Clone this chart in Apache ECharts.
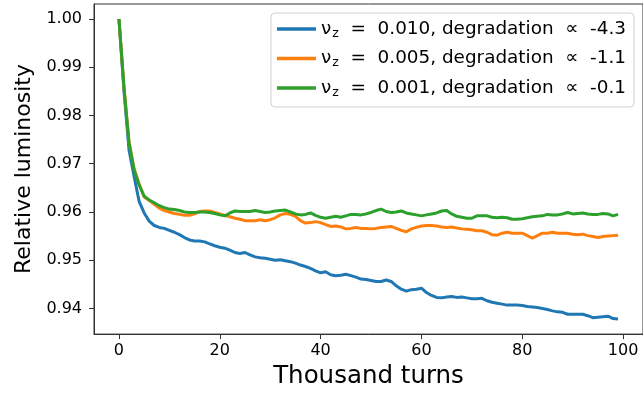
<!DOCTYPE html>
<html>
<head>
<meta charset="utf-8">
<script src="https://cdn.jsdelivr.net/npm/echarts@6/dist/echarts.min.js"></script>
<style>html,body{margin:0;padding:0;background:#fff;}#c{width:643px;height:394px;}</style>
</head>
<body>
<div id="c"></div>
<script>
// Thousand turns (sample positions)
const turns = [0,1,2,3,4,5,6,7,8,9,10,11,12,13,14,15,16,17,18,19,20,21,22,23,24,25,26,27,28,29,30,31,32,33,34,35,36,37,38,39,40,41,42,43,44,45,46,47,48,49,50,51,52,53,54,55,56,57,58,59,60,61,62,63,64,65,66,67,68,69,70,71,72,73,74,75,76,77,78,79,80,81,82,83,84,85,86,87,88,89,90,91,92,93,94,95,96,97,98,99];

const lumNu010 = [1.0000,0.9850,0.9728,0.9674,0.9622,0.9598,0.9581,0.9572,0.9568,0.9566,
0.9562,0.9558,0.9553,0.9547,0.9542,0.9540,0.9540,0.9538,0.9534,0.9530,
0.9527,0.9525,0.9521,0.9516,0.9514,0.9516,0.9511,0.9507,0.9505,0.9504,
0.9502,0.9500,0.9501,0.9499,0.9497,0.9494,0.9490,0.9487,0.9483,0.9478,
0.9474,0.9476,0.9470,0.9468,0.9469,0.9471,0.9468,0.9465,0.9461,0.9460,
0.9458,0.9456,0.9456,0.9459,0.9456,0.9447,0.9440,0.9436,0.9439,0.9440,
0.9442,0.9433,0.9427,0.9423,0.9422,0.9424,0.9425,0.9423,0.9424,0.9422,
0.9420,0.9420,0.9421,0.9416,0.9413,0.9411,0.9409,0.9407,0.9407,0.9407,
0.9406,0.9404,0.9403,0.9402,0.9400,0.9398,0.9395,0.9393,0.9392,0.9388,
0.9388,0.9388,0.9388,0.9385,0.9381,0.9382,0.9383,0.9384,0.9379,0.9378];

const lumNu005 = [1.0000,0.9858,0.9745,0.9690,0.9658,0.9631,0.9624,0.9616,0.9608,0.9603,
0.9600,0.9597,0.9595,0.9593,0.9593,0.9596,0.9601,0.9602,0.9602,0.9599,
0.9596,0.9593,0.9590,0.9587,0.9585,0.9582,0.9582,0.9582,0.9584,0.9582,
0.9584,0.9588,0.9594,0.9597,0.9595,0.9591,0.9582,0.9577,0.9578,0.9580,
0.9578,0.9574,0.9570,0.9571,0.9569,0.9565,0.9566,0.9568,0.9566,0.9566,
0.9565,0.9566,0.9568,0.9569,0.9570,0.9566,0.9562,0.9559,0.9565,0.9568,
0.9571,0.9572,0.9572,0.9571,0.9569,0.9568,0.9569,0.9567,0.9565,0.9564,
0.9563,0.9561,0.9561,0.9558,0.9553,0.9552,0.9556,0.9558,0.9556,0.9556,
0.9556,0.9551,0.9546,0.9551,0.9556,0.9556,0.9558,0.9556,0.9556,0.9556,
0.9554,0.9553,0.9554,0.9551,0.9549,0.9547,0.9549,0.9550,0.9551,0.9552];

const lumNu001 = [1.0000,0.9858,0.9743,0.9687,0.9656,0.9633,0.9625,0.9619,0.9613,0.9609,
0.9606,0.9605,0.9603,0.9600,0.9599,0.9599,0.9600,0.9600,0.9599,0.9597,
0.9594,0.9592,0.9598,0.9602,0.9601,0.9601,0.9601,0.9603,0.9601,0.9599,
0.9600,0.9602,0.9603,0.9604,0.9600,0.9596,0.9594,0.9595,0.9598,0.9593,
0.9589,0.9587,0.9589,0.9591,0.9589,0.9592,0.9595,0.9595,0.9594,0.9596,
0.9599,0.9603,0.9606,0.9601,0.9599,0.9600,0.9602,0.9598,0.9596,0.9594,
0.9592,0.9594,0.9596,0.9598,0.9602,0.9603,0.9596,0.9591,0.9589,0.9587,
0.9587,0.9592,0.9592,0.9592,0.9589,0.9588,0.9589,0.9588,0.9585,0.9585,
0.9586,0.9588,0.9590,0.9591,0.9592,0.9595,0.9594,0.9594,0.9596,0.9599,
0.9596,0.9597,0.9598,0.9596,0.9595,0.9595,0.9597,0.9596,0.9592,0.9595];

const nuValues = ['0.010', '0.005', '0.001'];
const degradation = ['-4.3', '-1.1', '-0.1'];
const xTicks = [0, 20, 40, 60, 80, 100];
const yTicks = [0.94, 0.95, 0.96, 0.97, 0.98, 0.99, 1.00];
const colors = ['#1f77b4', '#ff7f0e', '#2ca02c'];
const seriesValues = [lumNu010, lumNu005, lumNu001];

const FONT = 'DejaVu Sans';
const names = nuValues.map((n, i) => 'nu_z = ' + n + ', degradation ∝ ' + degradation[i]);

const chart = echarts.init(document.getElementById('c'), null, {renderer: 'canvas'});
chart.setOption({
  animation: false,
  backgroundColor: '#ffffff',
  textStyle: {fontFamily: FONT},
  grid: {left: 94, top: 4, width: 552, height: 330.5, show: true, borderColor: '#333', borderWidth: 1, backgroundColor: 'transparent'},
  xAxis: {
    type: 'value', min: -4.95, max: 103.95,
    name: 'Thousand turns', nameLocation: 'middle', nameGap: 29,
    nameTextStyle: {fontSize: 24.5, color: '#000', fontFamily: FONT},
    axisLine: {show: true, onZero: false, lineStyle: {color: '#333', width: 1}},
    axisTick: {show: true, length: 5, customValues: xTicks, lineStyle: {color: '#333'}},
    axisLabel: {customValues: xTicks, fontSize: 16, color: '#000', margin: 9, fontFamily: FONT},
    splitLine: {show: false}
  },
  yAxis: {
    type: 'value', min: 0.93469, max: 1.00311,
    name: 'Relative luminosity', nameLocation: 'middle', nameGap: 59, nameRotate: 90,
    nameTextStyle: {fontSize: 22, color: '#000', fontFamily: FONT},
    axisLine: {show: true, onZero: false, lineStyle: {color: '#333', width: 1}},
    axisTick: {show: true, length: 5, customValues: yTicks, lineStyle: {color: '#333'}},
    axisLabel: {customValues: yTicks, fontSize: 16, color: '#000', margin: 12, fontFamily: FONT,
      formatter: v => v.toFixed(2)},
    splitLine: {show: false}
  },
  legend: {
    orient: 'vertical', right: 9, top: 13,
    icon: 'rect', itemWidth: 39, itemHeight: 3.5, itemGap: 9.5,
    padding: [7, 8, 8, 6],
    borderColor: '#d0d0d0', borderWidth: 1, borderRadius: 4,
    backgroundColor: 'rgba(255,255,255,0.8)',
    data: names,
    formatter: function (name) {
      const i = names.indexOf(name);
      return '{a|ν}{b|z}{a|  =  ' + nuValues[i] + ', degradation  ∝  ' + degradation[i] + '}';
    },
    textStyle: {
      fontFamily: FONT, fontSize: 18.4, color: '#000',
      rich: {
        a: {fontFamily: FONT, fontSize: 18.4, color: '#000', verticalAlign: 'middle'},
        b: {fontFamily: FONT, fontSize: 12.5, color: '#000', verticalAlign: 'middle', padding: [9, 0, 0, 1]}
      }
    }
  },
  series: seriesValues.map((vals, i) => ({
    name: names[i],
    type: 'line',
    data: turns.map((t, j) => [t, vals[j]]),
    symbol: 'none',
    lineStyle: {color: colors[i], width: 3},
    itemStyle: {color: colors[i]},
    clip: true,
    z: 2 + i
  }))
});
</script>
</body>
</html>
